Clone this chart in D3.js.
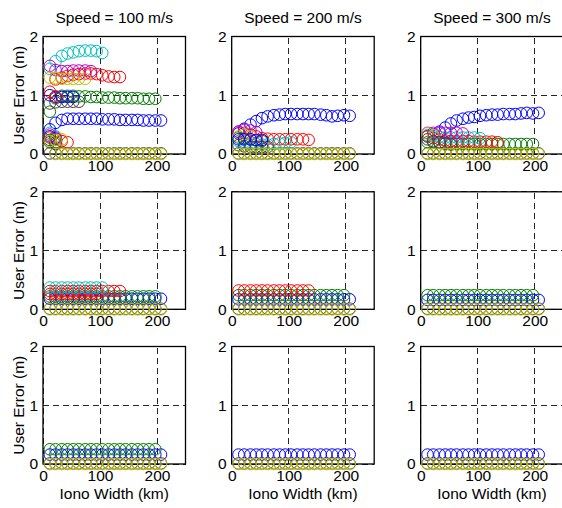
<!DOCTYPE html>
<html>
<head>
<meta charset="utf-8">
<script src="https://cdn.jsdelivr.net/npm/d3@7"></script>
<style>
  html, body { margin: 0; padding: 0; background: #fff; overflow: hidden; }
  svg { display: block; }
  text { font-family: "Liberation Sans", Arial, sans-serif; fill: #000; }
</style>
</head>
<body>
<svg id="chart" width="562" height="508"></svg>
<script>
// Iono width sample points (km) shared by every series
const ionoWidth = [12, 22, 33, 43, 53, 63, 74, 84, 94, 104, 115, 125, 135, 145, 156, 166, 176, 186, 197, 207];

const speedTitles = ["Speed = 100 m/s", "Speed = 200 m/s", "Speed = 300 m/s"];
const xTicks = [0, 100, 200];
const yTicks = [0, 1, 2];
const xLabel = "Iono Width (km)";
const yLabel = "User Error (m)";

// MATLAB-style line colour order
const lineColors = { b: "#0000ff", g: "#008000", r: "#ff0000", c: "#00bfbf", m: "#bf00bf", y: "#bfbf00", k: "#404040" };

// Each series: [colour key, index of first iono width, user error values (m)]
const row1Speed100 = [
  ["k", 0, [0.01, 0.01, 0.01, 0.01, 0.01, 0.01, 0.01, 0.01, 0.01, 0.01, 0.01, 0.01, 0.01, 0.01, 0.01, 0.01, 0.01, 0.01, 0.01, 0.01]],
  ["b", 0, [0.42, 0.53, 0.58, 0.60, 0.60, 0.60, 0.60, 0.60, 0.60, 0.59, 0.59, 0.59, 0.58, 0.58, 0.58, 0.58, 0.57, 0.57, 0.57, 0.57]],
  ["g", 0, [0.72, 0.95, 0.99, 0.99, 0.99, 0.98, 0.98, 0.97, 0.97, 0.96, 0.96, 0.96, 0.95, 0.95, 0.95, 0.95, 0.94, 0.94, 0.94]],
  ["r", 1, [1.27, 1.30, 1.33, 1.35, 1.36, 1.37, 1.37, 1.36, 1.34, 1.32, 1.31, 1.31]],
  ["c", 0, [1.45, 1.58, 1.67, 1.71, 1.73, 1.75, 1.76, 1.76, 1.75, 1.72]],
  ["m", 0, [1.50, 1.43, 1.41, 1.41, 1.42, 1.42, 1.42, 1.41]],
  ["y", 0, [1.30, 1.29, 1.28, 1.28, 1.28, 1.28, 1.28]],
  ["k", 0, [0.86, 0.88, 0.89, 0.89, 0.89, 0.89]],
  ["b", 0, [1.00, 0.97, 0.97, 0.97, 0.97]],
  ["r", 0, [1.06, 0.98]],
  ["c", 0, [0.36, 0.30]],
  ["m", 0, [0.33, 0.28]],
  ["b", 0, [0.30, 0.26]],
  ["g", 0, [0.24, 0.20]],
  ["r", 0, [0.28, 0.24, 0.22, 0.20]],
  ["k", 0, [0.20, 0.17]],
  ["y", 0, [0.22, 0.24, 0.25]],
  ["y", 1, [0, 0, 0, 0, 0, 0, 0, 0, 0, 0, 0, 0, 0, 0, 0, 0, 0, 0, 0]]
];

const row1Speed200 = [
  ["k", 0, [0.01, 0.01, 0.01, 0.01, 0.01, 0.01, 0.01, 0.01, 0.01, 0.01, 0.01, 0.01, 0.01, 0.01, 0.01, 0.01, 0.01, 0.01, 0.01, 0.01]],
  ["b", 0, [0.35, 0.43, 0.50, 0.56, 0.61, 0.64, 0.66, 0.67, 0.68, 0.68, 0.68, 0.68, 0.68, 0.68, 0.67, 0.66, 0.64, 0.65, 0.66, 0.65]],
  ["g", 0, [0.28, 0.27, 0.25, 0.23, 0.22]],
  ["r", 0, [0.38, 0.36, 0.33, 0.30, 0.27, 0.26, 0.25, 0.25, 0.25, 0.25, 0.25, 0.25, 0.24]],
  ["c", 0, [0.22, 0.20, 0.18, 0.17, 0.16, 0.16, 0.17, 0.18, 0.19, 0.20]],
  ["m", 0, [0.38, 0.41, 0.40, 0.37]],
  ["y", 0, [0.30, 0.33, 0.30]],
  ["k", 0, [0.15, 0.13, 0.12, 0.12, 0.12, 0.12]],
  ["b", 0, [0.25, 0.25, 0.25, 0.24, 0.24]],
  ["y", 0, [0, 0, 0, 0, 0, 0, 0, 0, 0, 0, 0, 0, 0, 0, 0, 0, 0, 0, 0, 0]]
];

const row1Speed300 = [
  ["k", 0, [0.01, 0.01, 0.01, 0.01, 0.01, 0.01, 0.01, 0.01, 0.01, 0.01, 0.01, 0.01, 0.01, 0.01, 0.01, 0.01, 0.01, 0.01, 0.01, 0.01]],
  ["b", 0, [0.30, 0.33, 0.38, 0.45, 0.52, 0.57, 0.60, 0.62, 0.63, 0.65, 0.66, 0.67, 0.67, 0.68, 0.68, 0.68, 0.69, 0.70, 0.69, 0.70]],
  ["g", 0, [0.20, 0.20, 0.19, 0.18, 0.18, 0.17, 0.17, 0.17, 0.17, 0.17, 0.17, 0.17, 0.17, 0.17, 0.17, 0.17, 0.17, 0.17, 0.17]],
  ["r", 0, [0.30, 0.27, 0.25, 0.23, 0.22, 0.22, 0.22, 0.22, 0.21, 0.21, 0.21, 0.21, 0.20]],
  ["c", 0, [0.32, 0.30, 0.29, 0.28, 0.28, 0.28, 0.28, 0.28, 0.28, 0.27]],
  ["m", 0, [0.36, 0.36, 0.36, 0.36, 0.36, 0.36, 0.35]],
  ["y", 0, [0.35, 0.32]],
  ["k", 0, [0.25, 0.22, 0.20, 0.18, 0.16]],
  ["y", 0, [0, 0, 0, 0, 0, 0, 0, 0, 0, 0, 0, 0, 0, 0, 0, 0, 0, 0, 0, 0]]
];

const row2Speed100 = [
  ["k", 0, [0.01, 0.01, 0.01, 0.01, 0.01, 0.01, 0.01, 0.01, 0.01, 0.01, 0.01, 0.01, 0.01, 0.01, 0.01, 0.01, 0.01, 0.01, 0.01, 0.01]],
  ["b", 0, [0.18, 0.18, 0.18, 0.18, 0.18, 0.18, 0.18, 0.18, 0.18, 0.18, 0.18, 0.18, 0.18, 0.18, 0.18, 0.18, 0.18, 0.18, 0.18, 0.18]],
  ["g", 0, [0.22, 0.22, 0.22, 0.22, 0.22, 0.22, 0.22, 0.22, 0.22, 0.22, 0.22, 0.22, 0.22, 0.22, 0.22, 0.22, 0.22, 0.22, 0.22]],
  ["r", 0, [0.26, 0.26, 0.26, 0.26, 0.26, 0.26, 0.26, 0.26, 0.26]],
  ["r", 0, [0.31, 0.31, 0.31, 0.31, 0.31, 0.31, 0.31, 0.31, 0.31, 0.31, 0.31, 0.31, 0.31]],
  ["c", 0, [0.37, 0.37, 0.37, 0.37, 0.37, 0.37, 0.37, 0.37, 0.37, 0.37]],
  ["y", 0, [0, 0, 0, 0, 0, 0, 0, 0, 0, 0, 0, 0, 0, 0, 0, 0, 0, 0, 0, 0]]
];

const row2Speed200 = [
  ["k", 0, [0.01, 0.01, 0.01, 0.01, 0.01, 0.01, 0.01, 0.01, 0.01, 0.01, 0.01, 0.01, 0.01, 0.01, 0.01, 0.01, 0.01, 0.01, 0.01, 0.01]],
  ["b", 0, [0.17, 0.17, 0.17, 0.17, 0.17, 0.17, 0.17, 0.17, 0.17, 0.17, 0.17, 0.17, 0.17, 0.17, 0.17, 0.17, 0.17, 0.17, 0.17, 0.17]],
  ["g", 0, [0.24, 0.24, 0.24, 0.24, 0.24, 0.24, 0.24, 0.24, 0.24, 0.24, 0.24, 0.24, 0.24, 0.24, 0.24, 0.24, 0.24, 0.24, 0.24]],
  ["r", 0, [0.32, 0.32, 0.32, 0.32, 0.32, 0.32, 0.32, 0.32, 0.32, 0.32, 0.32, 0.32, 0.32]],
  ["y", 0, [0, 0, 0, 0, 0, 0, 0, 0, 0, 0, 0, 0, 0, 0, 0, 0, 0, 0, 0, 0]]
];

const row2Speed300 = [
  ["k", 0, [0.01, 0.01, 0.01, 0.01, 0.01, 0.01, 0.01, 0.01, 0.01, 0.01, 0.01, 0.01, 0.01, 0.01, 0.01, 0.01, 0.01, 0.01, 0.01, 0.01]],
  ["b", 0, [0.16, 0.16, 0.16, 0.16, 0.16, 0.16, 0.16, 0.16, 0.16, 0.16, 0.16, 0.16, 0.16, 0.16, 0.16, 0.16, 0.16, 0.16, 0.16, 0.16]],
  ["g", 0, [0.24, 0.24, 0.24, 0.24, 0.24, 0.24, 0.24, 0.24, 0.24, 0.24, 0.24, 0.24, 0.24, 0.24, 0.24, 0.24, 0.24, 0.24, 0.24]],
  ["y", 0, [0, 0, 0, 0, 0, 0, 0, 0, 0, 0, 0, 0, 0, 0, 0, 0, 0, 0, 0, 0]]
];

const row3Speed100 = [
  ["k", 0, [0.01, 0.01, 0.01, 0.01, 0.01, 0.01, 0.01, 0.01, 0.01, 0.01, 0.01, 0.01, 0.01, 0.01, 0.01, 0.01, 0.01, 0.01, 0.01, 0.01]],
  ["b", 0, [0.16, 0.16, 0.16, 0.16, 0.16, 0.16, 0.16, 0.16, 0.16, 0.16, 0.16, 0.16, 0.16, 0.16, 0.16, 0.16, 0.16, 0.16, 0.16, 0.16]],
  ["g", 0, [0.25, 0.25, 0.25, 0.25, 0.25, 0.25, 0.25, 0.25, 0.25, 0.25, 0.25, 0.25, 0.25, 0.25, 0.25, 0.25, 0.25, 0.25, 0.25]],
  ["y", 0, [0, 0, 0, 0, 0, 0, 0, 0, 0, 0, 0, 0, 0, 0, 0, 0, 0, 0, 0, 0]]
];

const row3Speed200 = [
  ["k", 0, [0.01, 0.01, 0.01, 0.01, 0.01, 0.01, 0.01, 0.01, 0.01, 0.01, 0.01, 0.01, 0.01, 0.01, 0.01, 0.01, 0.01, 0.01, 0.01, 0.01]],
  ["b", 0, [0.16, 0.16, 0.16, 0.16, 0.16, 0.16, 0.16, 0.16, 0.16, 0.16, 0.16, 0.16, 0.16, 0.16, 0.16, 0.16, 0.16, 0.16, 0.16, 0.16]],
  ["y", 0, [0, 0, 0, 0, 0, 0, 0, 0, 0, 0, 0, 0, 0, 0, 0, 0, 0, 0, 0, 0]]
];

const row3Speed300 = [
  ["k", 0, [0.01, 0.01, 0.01, 0.01, 0.01, 0.01, 0.01, 0.01, 0.01, 0.01, 0.01, 0.01, 0.01, 0.01, 0.01, 0.01, 0.01, 0.01, 0.01, 0.01]],
  ["b", 0, [0.16, 0.16, 0.16, 0.16, 0.16, 0.16, 0.16, 0.16, 0.16, 0.16, 0.16, 0.16, 0.16, 0.16, 0.16, 0.16, 0.16, 0.16, 0.16, 0.16]],
  ["y", 0, [0, 0, 0, 0, 0, 0, 0, 0, 0, 0, 0, 0, 0, 0, 0, 0, 0, 0, 0, 0]]
];

const panelRows = [
  [row1Speed100, row1Speed200, row1Speed300],
  [row2Speed100, row2Speed200, row2Speed300],
  [row3Speed100, row3Speed200, row3Speed300]
];

// Subplot geometry
const colLeft = [43, 231.7, 420.7];
const rowTop = [36.5, 191.8, 346.5];
const plotW = 142.5;
const plotH = 117.5;
const fontSize = 15.5;
const markerR = 5.8;

const svg = d3.select("#chart");

panelRows.forEach((row, ri) => {
  row.forEach((seriesList, ci) => {
    const x0 = colLeft[ci], y0 = rowTop[ri];
    const x = d3.scaleLinear().domain([0, 250]).range([x0, x0 + plotW]);
    const y = d3.scaleLinear().domain([0, 2]).range([y0 + plotH, y0]);
    const g = svg.append("g");

    // dashed grid
    const grid = g.append("g").attr("stroke", "#262626").attr("stroke-width", 1)
      .attr("stroke-dasharray", "6,4").attr("shape-rendering", "crispEdges");
    grid.selectAll("line.gx").data(xTicks).join("line")
      .attr("x1", d => x(d)).attr("x2", d => x(d))
      .attr("y1", y(0)).attr("y2", y(2));
    grid.selectAll("line.gy").data(yTicks).join("line")
      .attr("x1", x(0)).attr("x2", x(250))
      .attr("y1", d => y(d)).attr("y2", d => y(d));

    // axes box
    g.append("rect")
      .attr("x", x(0)).attr("y", y(2))
      .attr("width", x(250) - x(0)).attr("height", y(0) - y(2))
      .attr("fill", "none").attr("stroke", "#000").attr("stroke-width", 1.3);

    // user error markers
    seriesList.forEach(([key, start, vals]) => {
      const pts = vals.map((v, i) => ({ w: ionoWidth[start + i], e: v }));
      g.append("g").selectAll("circle").data(pts).join("circle")
        .attr("cx", d => x(d.w)).attr("cy", d => y(d.e)).attr("r", markerR)
        .attr("fill", "none").attr("stroke", lineColors[key]).attr("stroke-width", 1);
    });

    // tick labels
    const ax = g.append("g").attr("transform", `translate(0,${y(0)})`)
      .call(d3.axisBottom(x).tickValues(xTicks).tickFormat(d3.format("d")).tickSize(0).tickPadding(6));
    const ay = g.append("g").attr("transform", `translate(${x(0)},0)`)
      .call(d3.axisLeft(y).tickValues(yTicks).tickFormat(d3.format("d")).tickSize(0).tickPadding(5));
    [ax, ay].forEach(a => {
      a.select(".domain").remove();
      a.attr("font-size", fontSize).attr("font-family", "'Liberation Sans', Arial, sans-serif");
      a.selectAll("text").attr("fill", "#000");
    });

    if (ri === 0) {
      g.append("text").attr("x", x(125)).attr("y", y0 - 14)
        .attr("text-anchor", "middle").attr("font-size", fontSize).text(speedTitles[ci]);
    }
    if (ci === 0) {
      g.append("text")
        .attr("transform", `translate(24,${y(1)}) rotate(-90)`)
        .attr("text-anchor", "middle").attr("font-size", fontSize).text(yLabel);
    }
    if (ri === 2) {
      g.append("text").attr("x", x(125)).attr("y", 499)
        .attr("text-anchor", "middle").attr("font-size", fontSize).text(xLabel);
    }
  });
});
</script>
</body>
</html>
